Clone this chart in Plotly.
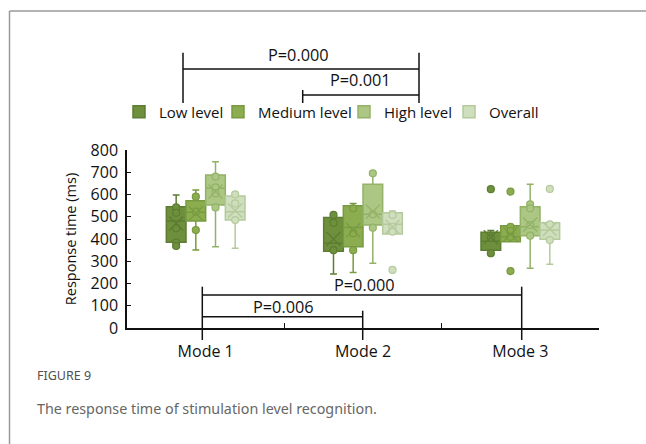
import plotly.graph_objects as go

modes = ["Mode 1", "Mode 2", "Mode 3"]
levels = ["Low level", "Medium level", "High level", "Overall"]

# box statistics per level (Mode 1, Mode 2, Mode 3)
q1 = {
    "Low level": [385, 345, 350],
    "Medium level": [481, 365, 388],
    "High level": [553, 463, 415],
    "Overall": [485, 422, 399],
}
median = {
    "Low level": [481, 381, 390],
    "Medium level": [520, 452, 410],
    "High level": [628, 511, 455],
    "Overall": [523, 466, 440],
}
q3 = {
    "Low level": [545, 497, 430],
    "Medium level": [572, 550, 460],
    "High level": [688, 646, 545],
    "Overall": [593, 518, 473],
}
lower = {
    "Low level": [363, 243, 336],
    "Medium level": [351, 250, 388],
    "High level": [365, 291, 268],
    "Overall": [358, 422, 286],
}
upper = {
    "Low level": [598, 508, 438],
    "Medium level": [620, 560, 460],
    "High level": [747, 695, 646],
    "Overall": [601, 526, 473],
}
means = {
    "Low level": [470, 400, 408],
    "Medium level": [515, 440, 421],
    "High level": [613, 523, 465],
    "Overall": [528, 455, 445],
}
points = {
    "Low level": [[542, 518, 448, 385, 369], [508, 473, 350], [406, 336, 624]],
    "Medium level": [[590, 523, 440], [538, 426, 350], [455, 436, 410, 613, 256]],
    "High level": [[680, 632, 605, 542], [695, 511, 451], [556, 538, 463, 415]],
    "Overall": [[601, 560, 485], [508, 455, 433, 261], [466, 395, 625]],
}

fills = ["#6e8f3c", "#8cad4f", "#abc783", "#cfdebd"]
lines = ["#5c7d32", "#789a40", "#93b268", "#b4ca9c"]
legend_px = [119, 218, 344, 449]

W, H = 646, 444
L, R, T, B = 127, 47, 150, 116
pw, ph = W - L - R, H - T - B


def fx(px):
    return (px - L) / pw


def fy(py):
    return (H - B - py) / ph


fig = go.Figure()
for i, lv in enumerate(levels):
    fig.add_trace(go.Box(
        name=lv, x=modes, q1=q1[lv], median=median[lv], q3=q3[lv],
        lowerfence=lower[lv], upperfence=upper[lv],
        fillcolor=fills[i], line=dict(color=lines[i], width=1.5),
        whiskerwidth=0.35, offsetgroup=lv, legendgroup=lv, showlegend=True,
        legend="legend" if i == 0 else "legend%d" % (i + 1),
    ))
for i, lv in enumerate(levels):
    xs, ys = [], []
    for m, pts in zip(modes, points[lv]):
        xs += [m] * len(pts)
        ys += pts
    fig.add_trace(go.Scatter(
        x=xs, y=ys, mode="markers", offsetgroup=lv, legendgroup=lv,
        showlegend=False, hoverinfo="y",
        marker=dict(symbol="circle", size=7, color=fills[i],
                    line=dict(color=lines[i], width=1.2)),
    ))
    fig.add_trace(go.Scatter(
        x=modes, y=means[lv], mode="markers", offsetgroup=lv, legendgroup=lv,
        showlegend=False, hoverinfo="y",
        marker=dict(symbol="x-thin", size=14,
                    line=dict(color=lines[i], width=1.3)),
    ))

shapes = []


def seg(x0, y0, x1, y1):
    shapes.append(dict(type="line", xref="paper", yref="paper",
                       x0=fx(x0), y0=fy(y0), x1=fx(x1), y1=fy(y1),
                       line=dict(color="#111111", width=1.5)))


# top brackets
seg(183, 52.7, 183, 103)
seg(419, 52.7, 419, 103)
seg(183, 69, 419, 69)
seg(302.7, 90, 302.7, 103)
seg(302.7, 95, 419, 95)
# bottom brackets
seg(202.3, 286.7, 202.3, 340)
seg(521.7, 286.7, 521.7, 340)
seg(202.3, 295, 521.7, 295)
seg(362.7, 310.7, 362.7, 340)
seg(202.3, 316.7, 362.7, 316.7)
# frame
shapes.append(dict(type="line", xref="paper", yref="paper",
                   x0=fx(9.5), y0=fy(11), x1=fx(9.5), y1=fy(444),
                   line=dict(color="#9a9a9a", width=1.5)))
shapes.append(dict(type="line", xref="paper", yref="paper",
                   x0=fx(9.5), y0=fy(11), x1=fx(646), y1=fy(11),
                   line=dict(color="#9a9a9a", width=1.5)))

annos = []


def txt(s, x, y, size=16.3, color="#111111", xanchor="center"):
    annos.append(dict(text=s, x=fx(x), y=fy(y), xref="paper", yref="paper",
                      showarrow=False, xanchor=xanchor, yanchor="middle",
                      font=dict(size=size, color=color, family="Open Sans")))


txt("P=0.000", 298, 55)
txt("P=0.001", 360, 80)
txt("P=0.000", 364, 285)
txt("P=0.006", 283, 307)
annos.append(dict(text="FIGURE 9", x=fx(35), y=fy(375), xref="paper", yref="paper",
                  showarrow=False, xanchor="left", yanchor="middle",
                  font=dict(size=12.5, color="#505050", family="Noto Sans")))
annos.append(dict(text="The response time of stimulation level recognition.",
                  x=fx(35), y=fy(408), xref="paper", yref="paper",
                  showarrow=False, xanchor="left", yanchor="middle",
                  font=dict(size=14.3, color="#666666", family="Noto Sans")))

legend_common = dict(orientation="h", y=fy(112), xanchor="left", yanchor="middle",
                     font=dict(size=15, family="Open Sans", color="#111111"),
                     itemwidth=30, bgcolor="rgba(0,0,0,0)")
legends = {}
for i in range(4):
    key = "legend" if i == 0 else "legend%d" % (i + 1)
    legends[key] = dict(legend_common, x=fx(legend_px[i]))

fig.update_layout(
    width=W, height=H, margin=dict(l=L, r=R, t=T, b=B, autoexpand=False),
    paper_bgcolor="white", plot_bgcolor="white",
    boxmode="group", boxgap=0.5, boxgroupgap=0,
    scattermode="group", scattergap=0.5,
    font=dict(family="Open Sans", color="#111111", size=14),
    shapes=shapes, annotations=annos,
    xaxis=dict(type="category", categoryorder="array", categoryarray=modes,
               range=[-0.5, 2.5], showline=True, linecolor="#111111", linewidth=1.5,
               ticks="inside", tickson="boundaries", ticklen=5, tickcolor="#111111",
               tickfont=dict(size=16), ticklabelstandoff=8,
               showgrid=False, zeroline=False),
    yaxis=dict(range=[0, 800], dtick=100, showline=True, linecolor="#111111",
               linewidth=1.5, ticks="inside", ticklen=4, tickcolor="#111111",
               tickfont=dict(size=16), showgrid=False, zeroline=False,
               ticklabelstandoff=4,
               title=dict(text="Response time (ms)", font=dict(size=14.5), standoff=11)),
    showlegend=True,
    **legends,
)

fig.write_html("out.html")
